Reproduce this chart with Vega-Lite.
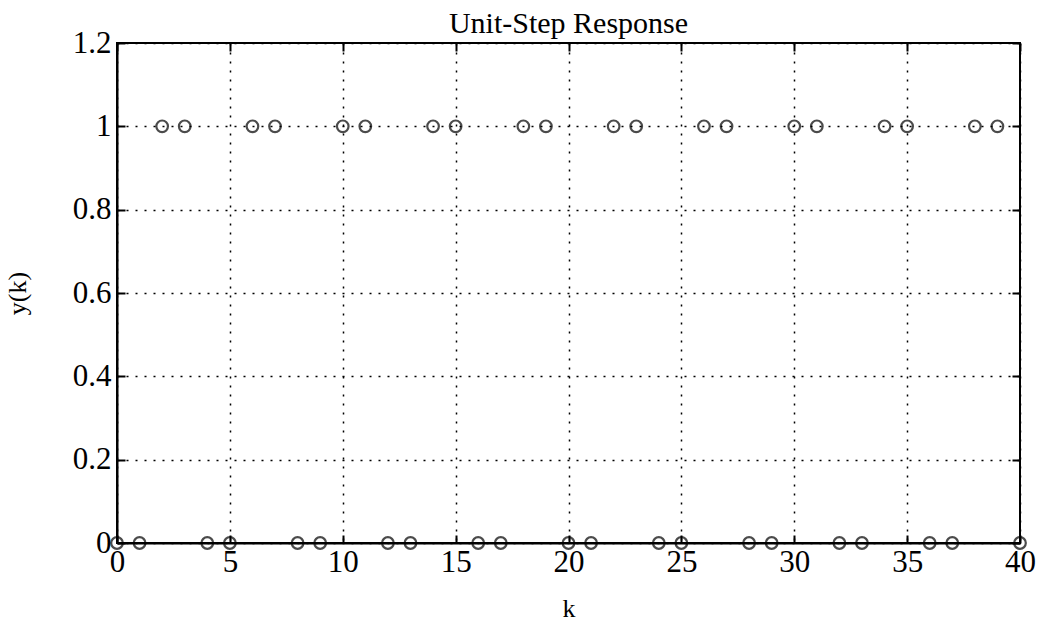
{
  "$schema": "https://vega.github.io/schema/vega-lite/v6.json",
  "autosize": {"type": "none"},
  "width": 903,
  "height": 500,
  "padding": {"left": 117, "top": 43, "right": 18, "bottom": 87},
  "background": "white",
  "config": {
    "font": "Liberation Serif",
    "view": {"stroke": "black", "strokeWidth": 2},
    "axis": {
      "domainColor": "black", "domainWidth": 2,
      "tickColor": "black", "tickWidth": 2, "tickSize": -8,
      "labelFont": "Liberation Serif", "labelFontSize": 31, "labelColor": "black", "labelFlush": false,
      "titleFont": "Liberation Serif", "titleFontSize": 26, "titleColor": "black", "titleFontWeight": "normal",
      "gridColor": "black", "gridDash": [2, 7], "gridWidth": 1.5, "gridOpacity": 1
    }
  },
  "title": {"text": "Unit-Step Response", "font": "Liberation Serif", "fontSize": 30, "fontWeight": "normal", "color": "black", "offset": -12},
  "data": {"values": [
    {"k": 0, "y": 0}, {"k": 1, "y": 0}, {"k": 2, "y": 1}, {"k": 3, "y": 1},
    {"k": 4, "y": 0}, {"k": 5, "y": 0}, {"k": 6, "y": 1}, {"k": 7, "y": 1},
    {"k": 8, "y": 0}, {"k": 9, "y": 0}, {"k": 10, "y": 1}, {"k": 11, "y": 1},
    {"k": 12, "y": 0}, {"k": 13, "y": 0}, {"k": 14, "y": 1}, {"k": 15, "y": 1},
    {"k": 16, "y": 0}, {"k": 17, "y": 0}, {"k": 18, "y": 1}, {"k": 19, "y": 1},
    {"k": 20, "y": 0}, {"k": 21, "y": 0}, {"k": 22, "y": 1}, {"k": 23, "y": 1},
    {"k": 24, "y": 0}, {"k": 25, "y": 0}, {"k": 26, "y": 1}, {"k": 27, "y": 1},
    {"k": 28, "y": 0}, {"k": 29, "y": 0}, {"k": 30, "y": 1}, {"k": 31, "y": 1},
    {"k": 32, "y": 0}, {"k": 33, "y": 0}, {"k": 34, "y": 1}, {"k": 35, "y": 1},
    {"k": 36, "y": 0}, {"k": 37, "y": 0}, {"k": 38, "y": 1}, {"k": 39, "y": 1},
    {"k": 40, "y": 0}
  ]},
  "layer": [
    {
      "mark": {"type": "point", "shape": "circle", "filled": false, "size": 135, "stroke": "black", "strokeWidth": 2.2, "clip": false},
      "encoding": {
        "x": {"field": "k", "type": "quantitative", "scale": {"domain": [0, 40], "nice": false, "zero": false},
              "axis": {"title": "k", "values": [0, 5, 10, 15, 20, 25, 30, 35, 40], "labelPadding": 12, "titlePadding": 18, "format": "d"}},
        "y": {"field": "y", "type": "quantitative", "scale": {"domain": [0, 1.2], "nice": false},
              "axis": {"title": "y(k)", "values": [0, 0.2, 0.4, 0.6, 0.8, 1, 1.2], "format": "~g", "labelPadding": 14, "titlePadding": 42}}
      }
    },
    {
      "mark": {"type": "point", "opacity": 0},
      "encoding": {
        "x": {"field": "k", "type": "quantitative", "axis": {"orient": "top", "values": [0, 5, 10, 15, 20, 25, 30, 35, 40], "labels": false, "title": null, "grid": false, "domain": false}},
        "y": {"field": "y", "type": "quantitative", "axis": {"orient": "right", "values": [0, 0.2, 0.4, 0.6, 0.8, 1, 1.2], "labels": false, "title": null, "grid": false, "domain": false}}
      }
    }
  ],
  "resolve": {"axis": {"x": "independent", "y": "independent"}}
}
